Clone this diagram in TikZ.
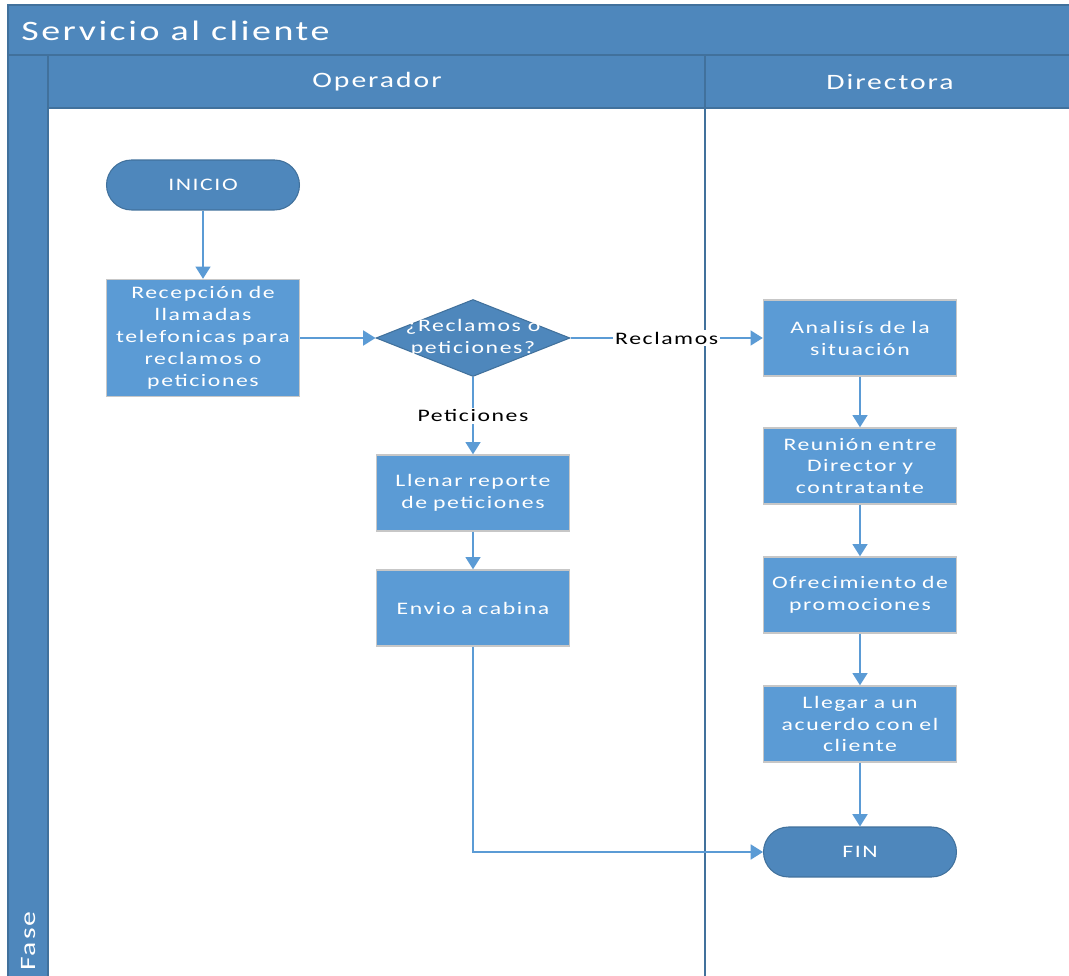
\documentclass[tikz,border=0pt]{standalone}
\usepackage{fontspec}
\setmainfont{Carlito}
\newfontfamily\vfont[FakeStretch=1.35,LetterSpace=9]{Carlito}
\usepackage{tikz}
\usetikzlibrary{positioning,arrows.meta,shapes.geometric,calc}
\definecolor{hdr}{HTML}{4E87BC}
\definecolor{hdrline}{HTML}{41719C}
\definecolor{boxc}{HTML}{5B9BD5}

\begin{document}
\begin{tikzpicture}[x=0.02cm,y=-0.02cm,
  proc/.style={rectangle,fill=boxc,draw=black!22,line width=0.8pt,minimum width=3.86cm,minimum height=1.52cm,
    text width=3.84cm,align=center,text=white,inner sep=0pt,font=\vfont\fontsize{10}{12.5}\selectfont},
  term/.style={rectangle,rounded corners=0.5cm,fill=hdr,draw=hdrline,line width=0.6pt,minimum width=3.86cm,
    minimum height=1cm,text=white,font=\vfont\fontsize{10}{12.5}\selectfont},
  decision/.style={diamond,fill=hdr,draw=hdrline,line width=0.6pt,minimum width=3.88cm,minimum height=1.54cm,inner sep=0pt},
  flow/.style={draw=boxc,line width=1.1pt,-{Triangle[length=7pt,width=8.5pt]}},
  lbl/.style={fill=white,text=black,inner sep=1pt,font=\vfont\fontsize{10}{12}\selectfont},
  lane/.style={fill=hdr,draw=hdrline,line width=0.6pt},
  hdrtext/.style={text=white,font=\vfont\fontsize{12.5}{15}\selectfont}]
  \useasboundingbox (0,0) rectangle (1069,976);
  \clip (0,0) rectangle (1069,976);
  % pool and lanes
  \fill[white] (0,0) rectangle (1069,976);
  \draw[lane] (8,5) rectangle (1100,55);
  \draw[lane] (8,55) rectangle (48,1000);
  \draw[lane] (48,55) rectangle (1100,108);
  \draw[hdrline,line width=0.8pt] (705,55) -- (705,1000);
  \node[anchor=west,inner sep=0pt,text=white,font=\vfont\fontsize{16}{19}\selectfont] (titulo) at (21,31) {Servicio al cliente};
  \node[hdrtext] (operador) at (377,82) {Operador};
  \node[hdrtext] (directora) at (890,82) {Directora};
  \node[hdrtext,rotate=90,anchor=west,inner sep=1pt] (fase) at (29,973) {Fase};
  % Operador
  \node[term] (inicio) at (203,185) {INICIO};
  \node[proc,minimum height=2.34cm] (recep) at (203,338) {Recepción de\\llamadas\\telefonicas para\\reclamos o\\peticiones};
  \node[decision,label={[text=white,align=center,font=\vfont\fontsize{10}{12.5}\selectfont]center:{¿Reclamos o\\peticiones?}}] (dec) at (473,338) {};
  \node[proc] (llenar) at (473,493) {Llenar reporte\\de peticiones};
  \node[proc] (envio) at (473,608) {Envio a cabina};
  % Directora
  \node[proc] (analisis) at (860,338) {Analisís de la\\situación};
  \node[proc] (reunion) at (860,466) {Reunión entre\\Director y\\contratante};
  \node[proc] (ofrec) at (860,595) {Ofrecimiento de\\promociones};
  \node[proc] (acuerdo) at (860,724) {Llegar a un\\acuerdo con el\\cliente};
  \node[term] (fin) at (860,852) {FIN};
  % conectores
  \draw[flow] (inicio) -- (recep);
  \draw[flow] (recep) -- (dec);
  \draw[flow] (dec) -- node[lbl]{Reclamos} (analisis);
  \draw[flow] (dec) -- node[lbl]{Peticiones} (llenar);
  \draw[flow] (llenar) -- (envio);
  \draw[flow] (envio) |- (fin);
  \draw[flow] (analisis) -- (reunion);
  \draw[flow] (reunion) -- (ofrec);
  \draw[flow] (ofrec) -- (acuerdo);
  \draw[flow] (acuerdo) -- (fin);
\end{tikzpicture}
\end{document}
